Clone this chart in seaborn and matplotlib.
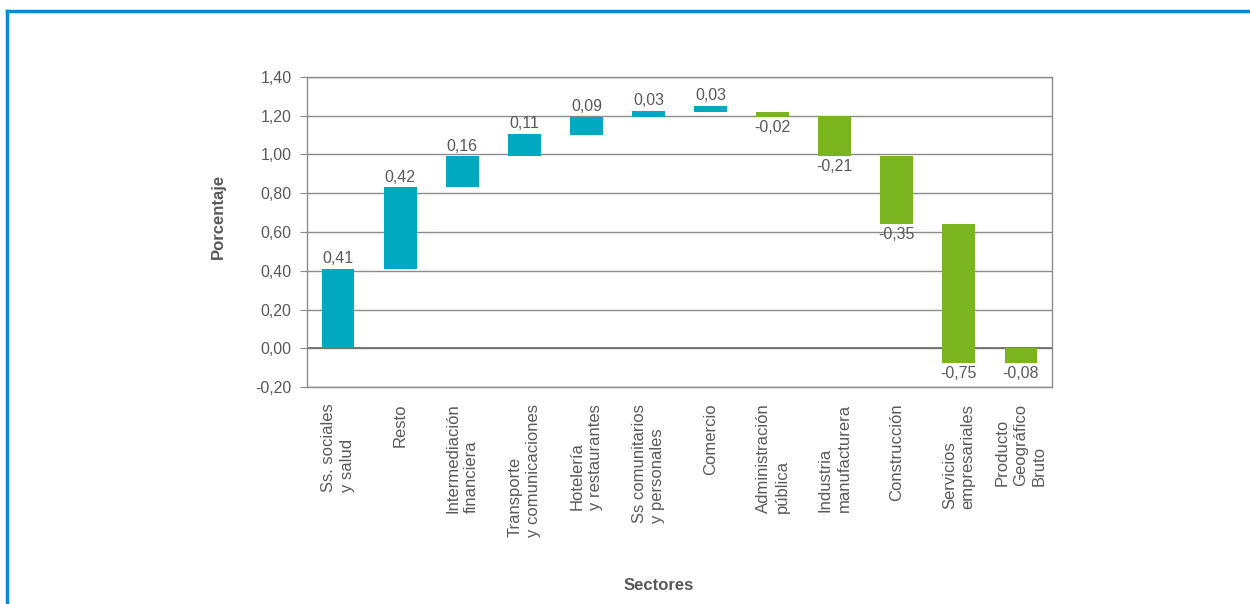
import numpy as np
import pandas as pd
import seaborn as sns
import matplotlib.pyplot as plt
from matplotlib.lines import Line2D

SECTORS = [
    "Ss. sociales\ny salud", "Resto", "Intermediación\nfinanciera",
    "Transporte\ny comunicaciones", "Hotelería\ny restaurantes",
    "Ss comunitarios\ny personales", "Comercio", "Administración\npública",
    "Industria\nmanufacturera", "Construcción", "Servicios\nempresariales",
    "Producto\nGeográfico\nBruto",
]
# contribution shown on each bar
CHANGE = [0.41, 0.42, 0.16, 0.11, 0.09, 0.03, 0.03, -0.02, -0.21, -0.35, -0.75, -0.08]
# floating bar start / end as drawn in the original
BAR_START = [0.00, 0.41, 0.83, 0.99, 1.10, 1.195, 1.22, 1.22, 1.197, 0.99, 0.64, 0.00]
BAR_END = [0.41, 0.83, 0.99, 1.105, 1.195, 1.225, 1.25, 1.195, 0.99, 0.643, -0.078, -0.078]

TEAL = "#00a8c0"
GREEN = "#7ab41e"
GREY = "#595959"
BORDER = "#0a8ad4"

plt.rcParams["font.family"] = ["Liberation Sans", "DejaVu Sans"]

df = pd.DataFrame({"sector": SECTORS, "change": CHANGE,
                   "start": BAR_START, "end": BAR_END})
df["height"] = df["end"] - df["start"]

fig = plt.figure(figsize=(12.5, 6.04), dpi=100)
ax = fig.add_axes([307 / 1250, 1 - 387 / 604, 745 / 1250, 310 / 604])

sns.barplot(data=df, x="sector", y="height", bottom=df["start"].values,
            order=SECTORS, width=0.53, color=TEAL, ax=ax, zorder=3,
            linewidth=0)
for patch, ch in zip(ax.patches, df["change"]):
    patch.set_facecolor(TEAL if ch > 0 else GREEN)

for i, row in df.iterrows():
    txt = f"{row['change']:.2f}".replace(".", ",")
    if row["change"] > 0:
        ax.text(i, max(row["start"], row["end"]) + 0.015, txt, ha="center",
                va="bottom", fontsize=11.5, color=GREY)
    else:
        ax.text(i, min(row["start"], row["end"]) - 0.015, txt, ha="center",
                va="top", fontsize=11.5, color=GREY)

ax.set_ylim(-0.2, 1.4)
ax.set_xlim(-0.5, len(SECTORS) - 0.5)
ticks = np.arange(-0.2, 1.41, 0.2)
ax.set_yticks(ticks)
ax.set_yticklabels([f"{t:.2f}".replace(".", ",") for t in ticks],
                   fontsize=11.5, color=GREY)
ax.yaxis.grid(True, color="#8c8c8c", linewidth=1, zorder=0)
ax.set_axisbelow(True)
ax.axhline(0, color="#707070", linewidth=1.3, zorder=2)
for s in ax.spines.values():
    s.set_color("#8c8c8c")
    s.set_linewidth(1)
ax.tick_params(axis="y", length=5, color="#8c8c8c", pad=6)
ax.tick_params(axis="x", length=0, pad=12)
ax.set_xticks(range(len(SECTORS)))
ax.set_xticklabels(SECTORS, rotation=90, ha="center", va="top",
                   multialignment="left", fontsize=12, color=GREY,
                   linespacing=1.3)
ax.set_xlabel("")
ax.set_ylabel("")

fig.text(659 / 1250, 1 - 586 / 604, "Sectores", ha="center", va="center",
         fontsize=12, fontweight="bold", color=GREY)
fig.text(218 / 1250, 1 - 216 / 604, "Porcentaje", ha="center", va="center",
         rotation=90, fontsize=12, fontweight="bold", color=GREY)

# blue frame (top and left edges)
fig.add_artist(Line2D([7 / 1250, 1], [1 - 11 / 604] * 2, color=BORDER,
                      linewidth=2.5, transform=fig.transFigure))
fig.add_artist(Line2D([7 / 1250] * 2, [0, 1 - 11 / 604], color=BORDER,
                      linewidth=2.5, transform=fig.transFigure))

fig.savefig("out.png", dpi=100)
